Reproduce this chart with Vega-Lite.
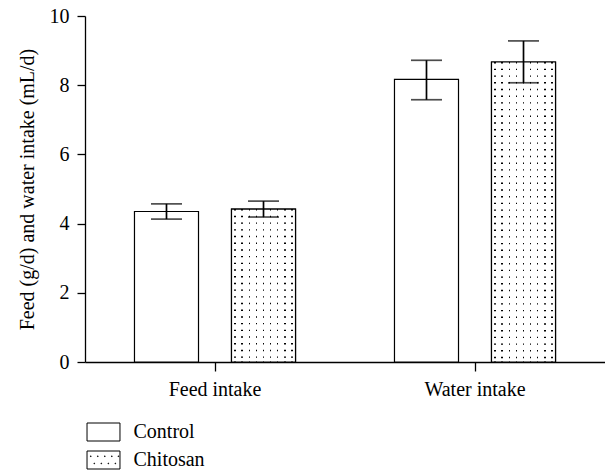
{
  "$schema": "https://vega.github.io/schema/vega-lite/v6.json",
  "width": 520,
  "height": 346,
  "autosize": {"type": "none"},
  "padding": {"left": 85, "top": 16, "right": 0, "bottom": 108},
  "background": "white",
  "config": {
    "font": "Liberation Serif",
    "view": {"stroke": null},
    "axis": {
      "domainColor": "black",
      "domainWidth": 1.3,
      "tickColor": "black",
      "tickWidth": 1.3,
      "labelColor": "black",
      "titleColor": "black",
      "labelFont": "Liberation Serif",
      "titleFont": "Liberation Serif",
      "labelFontSize": 20,
      "titleFontSize": 20,
      "titleFontWeight": "normal",
      "grid": false
    },
    "legend": {
      "orient": "none",
      "legendX": 8.5,
      "legendY": 406,
      "padding": 0,
      "symbolSize": 324,
      "symbolFillColor": "white",
      "symbolStrokeColor": "black",
      "symbolStrokeWidth": 1,
      "symbolOpacity": 1,
      "labelFont": "Liberation Serif",
      "labelFontSize": 20,
      "labelColor": "black",
      "labelOffset": 20,
      "rowPadding": 6
    }
  },
  "data": {
    "values": [
      {"Group": "Feed intake", "Treatment": "Control", "value": 4.35, "lo": 4.13, "hi": 4.57},
      {"Group": "Feed intake", "Treatment": "Chitosan", "value": 4.42, "lo": 4.19, "hi": 4.65},
      {"Group": "Water intake", "Treatment": "Control", "value": 8.17, "lo": 7.58, "hi": 8.72},
      {"Group": "Water intake", "Treatment": "Chitosan", "value": 8.67, "lo": 8.07, "hi": 9.28}
    ]
  },
  "encoding": {
    "x": {
      "field": "Group",
      "type": "nominal",
      "sort": ["Feed intake", "Water intake"],
      "scale": {"paddingInner": 0, "paddingOuter": 0},
      "axis": {"title": null, "labelAngle": 0, "tickSize": 9, "labelPadding": 8}
    },
    "xOffset": {
      "field": "Treatment",
      "type": "nominal",
      "sort": ["Control", "Chitosan"],
      "scale": {"domain": ["Control", "Chitosan"], "paddingInner": 0.34, "paddingOuter": 0.51}
    }
  },
  "layer": [
    {
      "mark": {"type": "point", "filled": false, "stroke": "black"},
      "encoding": {
        "y": {"field": "lo", "type": "quantitative", "scale": {"domain": [0, 10]}},
        "shape": {
          "field": "Treatment",
          "type": "nominal",
          "sort": ["Control", "Chitosan"],
          "scale": {
            "domain": ["Control", "Chitosan"],
            "range": [
              "M-1.83,-1H1.83V1H-1.83Z",
              "M-1.83,-1H1.83V1H-1.83Z M-1.45,-0.45h0.07v0.07h-0.07Z M-0.67,-0.45h0.07v0.07h-0.07Z M0.11,-0.45h0.07v0.07h-0.07Z M0.89,-0.45h0.07v0.07h-0.07Z M1.62,-0.45h0.07v0.07h-0.07Z M-1.06,0.35h0.07v0.07h-0.07Z M-0.28,0.35h0.07v0.07h-0.07Z M0.5,0.35h0.07v0.07h-0.07Z M1.28,0.35h0.07v0.07h-0.07Z"
            ]
          },
          "legend": {"title": null}
        }
      }
    },
    {
      "mark": {"type": "bar", "fill": "white", "stroke": "black", "strokeWidth": 1.2},
      "encoding": {
        "y": {
          "field": "value",
          "type": "quantitative",
          "scale": {"domain": [0, 10]},
          "axis": {
            "title": "Feed (g/d) and water intake (mL/d)",
            "values": [0, 2, 4, 6, 8, 10],
            "tickSize": 8,
            "labelPadding": 8,
            "titlePadding": 12
          }
        }
      }
    },
    {
      "transform": [{"filter": "datum.Treatment === 'Chitosan'"}],
      "mark": {"type": "rule", "color": "black", "strokeWidth": 62, "strokeDash": [1.4, 5.3]},
      "encoding": {
        "y": {"field": "value", "type": "quantitative"},
        "y2": {"datum": 0}
      }
    },
    {
      "transform": [{"filter": "datum.Treatment === 'Chitosan'"}],
      "mark": {
        "type": "bar",
        "stroke": "black",
        "strokeWidth": 1.2,
        "fill": {
          "gradient": "linear",
          "x1": 0, "y1": 0, "x2": 1, "y2": 0,
          "stops": [
            {"offset": 0, "color": "white"},
            {"offset": 0.0446, "color": "white"}, {"offset": 0.0446, "color": "rgba(255,255,255,0)"},
            {"offset": 0.0666, "color": "rgba(255,255,255,0)"}, {"offset": 0.0666, "color": "white"},
            {"offset": 0.1557, "color": "white"}, {"offset": 0.1557, "color": "rgba(255,255,255,0)"},
            {"offset": 0.1777, "color": "rgba(255,255,255,0)"}, {"offset": 0.1777, "color": "white"},
            {"offset": 0.2668, "color": "white"}, {"offset": 0.2668, "color": "rgba(255,255,255,0)"},
            {"offset": 0.2888, "color": "rgba(255,255,255,0)"}, {"offset": 0.2888, "color": "white"},
            {"offset": 0.3779, "color": "white"}, {"offset": 0.3779, "color": "rgba(255,255,255,0)"},
            {"offset": 0.3999, "color": "rgba(255,255,255,0)"}, {"offset": 0.3999, "color": "white"},
            {"offset": 0.489, "color": "white"}, {"offset": 0.489, "color": "rgba(255,255,255,0)"},
            {"offset": 0.511, "color": "rgba(255,255,255,0)"}, {"offset": 0.511, "color": "white"},
            {"offset": 0.6001, "color": "white"}, {"offset": 0.6001, "color": "rgba(255,255,255,0)"},
            {"offset": 0.6221, "color": "rgba(255,255,255,0)"}, {"offset": 0.6221, "color": "white"},
            {"offset": 0.7112, "color": "white"}, {"offset": 0.7112, "color": "rgba(255,255,255,0)"},
            {"offset": 0.7332, "color": "rgba(255,255,255,0)"}, {"offset": 0.7332, "color": "white"},
            {"offset": 0.8223, "color": "white"}, {"offset": 0.8223, "color": "rgba(255,255,255,0)"},
            {"offset": 0.8443, "color": "rgba(255,255,255,0)"}, {"offset": 0.8443, "color": "white"},
            {"offset": 0.9334, "color": "white"}, {"offset": 0.9334, "color": "rgba(255,255,255,0)"},
            {"offset": 0.9554, "color": "rgba(255,255,255,0)"}, {"offset": 0.9554, "color": "white"},
            {"offset": 1, "color": "white"}
          ]
        }
      },
      "encoding": {
        "y": {"field": "value", "type": "quantitative"}
      }
    },
    {
      "mark": {"type": "rule", "color": "black", "strokeWidth": 1.7},
      "encoding": {
        "y": {"field": "lo", "type": "quantitative"},
        "y2": {"field": "hi"}
      }
    },
    {
      "mark": {"type": "tick", "color": "black", "size": 31, "thickness": 1.7, "orient": "horizontal"},
      "encoding": {
        "y": {"field": "lo", "type": "quantitative"}
      }
    },
    {
      "mark": {"type": "tick", "color": "black", "size": 31, "thickness": 1.7, "orient": "horizontal"},
      "encoding": {
        "y": {"field": "hi", "type": "quantitative"}
      }
    }
  ]
}
